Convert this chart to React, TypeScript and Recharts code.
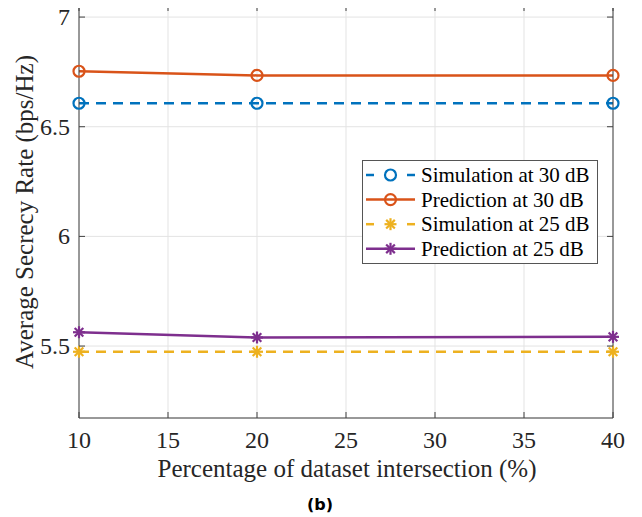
import React from 'react';
import { LineChart, Line, XAxis, YAxis, CartesianGrid, Label } from 'recharts';

const xValues = [10, 20, 40];
const simulation30 = [6.607, 6.607, 6.607];
const prediction30 = [6.753, 6.734, 6.734];
const simulation25 = [5.474, 5.474, 5.474];
const prediction25 = [5.563, 5.539, 5.542];
const xTicks = [10, 15, 20, 25, 30, 35, 40];
const yTicks = [5.5, 6, 6.5, 7];

const data = xValues.map((x, i) => ({
  x,
  sim30: simulation30[i],
  pred30: prediction30[i],
  sim25: simulation25[i],
  pred25: prediction25[i],
}));

const BLUE = '#0072BD';
const ORANGE = '#D95319';
const YELLOW = '#EDB120';
const PURPLE = '#7E2F8E';
const AXIS = '#404040';
const TEXT = '#262626';
const FONT = '"Liberation Serif", "Times New Roman", serif';

const Circle = (cx: number, cy: number, color: string, key?: any) => (
  <circle key={key} cx={cx} cy={cy} r={5.5} fill="none" stroke={color} strokeWidth={2.2} />
);
const Star = (cx: number, cy: number, color: string, key?: any) => {
  const r = 6;
  const d = r * 0.72;
  return (
    <g key={key} stroke={color} strokeWidth={2.2}>
      <line x1={cx - r} y1={cy} x2={cx + r} y2={cy} />
      <line x1={cx} y1={cy - r} x2={cx} y2={cy + r} />
      <line x1={cx - d} y1={cy - d} x2={cx + d} y2={cy + d} />
      <line x1={cx - d} y1={cy + d} x2={cx + d} y2={cy - d} />
    </g>
  );
};

const makeDot = (kind: 'circle' | 'star', color: string) => (props: any) => {
  const { cx, cy, index } = props;
  return kind === 'circle' ? Circle(cx, cy, color, index) : Star(cx, cy, color, index);
};

const BottomTick = (props: any) => {
  const { x, y, payload } = props;
  return (
    <g>
      <line x1={x} x2={x} y1={y} y2={y - 6} stroke={AXIS} strokeWidth={1} />
      <text x={x} y={y + 30} textAnchor="middle" style={{ fontFamily: FONT }} fontSize={24} fill={TEXT}>
        {payload.value}
      </text>
    </g>
  );
};
const TopTick = (props: any) => {
  const { x, y } = props;
  return <line x1={x} x2={x} y1={y} y2={y + 6} stroke={AXIS} strokeWidth={1} />;
};
const LeftTick = (props: any) => {
  const { x, y, payload } = props;
  return (
    <g>
      <line x1={x} x2={x + 6} y1={y} y2={y} stroke={AXIS} strokeWidth={1} />
      <text x={x - 9} y={y + 8} textAnchor="end" style={{ fontFamily: FONT }} fontSize={24} fill={TEXT}>
        {payload.value}
      </text>
    </g>
  );
};
const RightTick = (props: any) => {
  const { x, y } = props;
  return <line x1={x} x2={x - 6} y1={y} y2={y} stroke={AXIS} strokeWidth={1} />;
};

const legendItems = [
  { label: 'Simulation at 30 dB', color: BLUE, dashed: true, kind: 'circle' as const },
  { label: 'Prediction at 30 dB', color: ORANGE, dashed: false, kind: 'circle' as const },
  { label: 'Simulation at 25 dB', color: YELLOW, dashed: true, kind: 'star' as const },
  { label: 'Prediction at 25 dB', color: PURPLE, dashed: false, kind: 'star' as const },
];

const LegendBox = ({ x, y }: { x: number; y: number }) => (
  <g transform={`translate(${x}, ${y})`}>
    <rect x={0.5} y={0.5} width={235} height={103} fill="#fff" stroke="#555" strokeWidth={1} />
    {legendItems.map((it, i) => {
      const cy = 15 + i * 24.6;
      return (
        <g key={it.label}>
          {it.dashed ? (
            <g stroke={it.color} strokeWidth={2.5}>
              <line x1={4} x2={12} y1={cy} y2={cy} />
              <line x1={45} x2={53} y1={cy} y2={cy} />
            </g>
          ) : (
            <line x1={4} x2={53} y1={cy} y2={cy} stroke={it.color} strokeWidth={2.5} />
          )}
          {it.kind === 'circle' ? Circle(28.5, cy, it.color) : Star(28.5, cy, it.color)}
          <text x={59} y={cy + 7} style={{ fontFamily: FONT }} fontSize={21} fill="#000">
            {it.label}
          </text>
        </g>
      );
    })}
  </g>
);

export default function App() {
  return (
    <div style={{ margin: '-8px 0 0 -8px', width: 642, height: 517, background: '#fff' }}>
      <LineChart
        width={642}
        height={517}
        data={data}
        margin={{ top: 4, right: 28, bottom: 98, left: 78 }}
      >
        <CartesianGrid stroke="#e3e3e3" strokeWidth={1} xAxisId="b" yAxisId="l" />
        <XAxis
          xAxisId="b"
          dataKey="x"
          type="number"
          domain={[10, 40]}
          ticks={xTicks}
          interval={0}
          height={1}
          tickSize={0}
          tickMargin={0}
          tickLine={false}
          axisLine={{ stroke: AXIS, strokeWidth: 1 }}
          tick={BottomTick}
        >
          <Label
            content={(p: any) => {
              const vb = p.viewBox;
              return (
                <g>
                  <text x={vb.x + vb.width / 2 + 1} y={vb.y + 59} textAnchor="middle" style={{ fontFamily: FONT }} fontSize={25} fill={TEXT}>
                    Percentage of dataset intersection (%)
                  </text>
                  <text x={320} y={510} textAnchor="middle" style={{ fontFamily: '"DejaVu Sans", sans-serif' }} fontWeight="bold" fontSize={16} fill="#000">
                    (b)
                  </text>
                </g>
              );
            }}
          />
        </XAxis>
        <XAxis
          xAxisId="t"
          dataKey="x"
          type="number"
          orientation="top"
          domain={[10, 40]}
          ticks={xTicks}
          interval={0}
          height={1}
          tickSize={0}
          tickMargin={0}
          tickLine={false}
          axisLine={{ stroke: AXIS, strokeWidth: 1 }}
          tick={TopTick}
        />
        <YAxis
          yAxisId="l"
          type="number"
          domain={[5.172, 7.055]}
          ticks={yTicks}
          interval={0}
          width={1}
          tickSize={0}
          tickMargin={0}
          tickLine={false}
          allowDataOverflow
          axisLine={{ stroke: AXIS, strokeWidth: 1 }}
          tick={LeftTick}
        >
          <Label
            content={() => (
              <text
                x={0}
                y={0}
                transform="translate(33, 212) rotate(-90)"
                textAnchor="middle"
                style={{ fontFamily: FONT }}
                fontSize={25}
                fill={TEXT}
              >
                Average Secrecy Rate (bps/Hz)
              </text>
            )}
          />
        </YAxis>
        <YAxis
          yAxisId="r"
          orientation="right"
          type="number"
          domain={[5.172, 7.055]}
          ticks={yTicks}
          interval={0}
          width={1}
          tickSize={0}
          tickMargin={0}
          tickLine={false}
          allowDataOverflow
          axisLine={{ stroke: AXIS, strokeWidth: 1 }}
          tick={RightTick}
        >
          <Label content={() => <LegendBox x={362} y={160} />} />
        </YAxis>
        <Line xAxisId="b" yAxisId="l" dataKey="sim30" stroke={BLUE} strokeWidth={2.5} strokeDasharray="10 7" dot={makeDot('circle', BLUE)} isAnimationActive={false} />
        <Line xAxisId="b" yAxisId="l" dataKey="pred30" stroke={ORANGE} strokeWidth={2.5} dot={makeDot('circle', ORANGE)} isAnimationActive={false} />
        <Line xAxisId="b" yAxisId="l" dataKey="sim25" stroke={YELLOW} strokeWidth={2.5} strokeDasharray="10 7" dot={makeDot('star', YELLOW)} isAnimationActive={false} />
        <Line xAxisId="b" yAxisId="l" dataKey="pred25" stroke={PURPLE} strokeWidth={2.5} dot={makeDot('star', PURPLE)} isAnimationActive={false} />
      </LineChart>
    </div>
  );
}
